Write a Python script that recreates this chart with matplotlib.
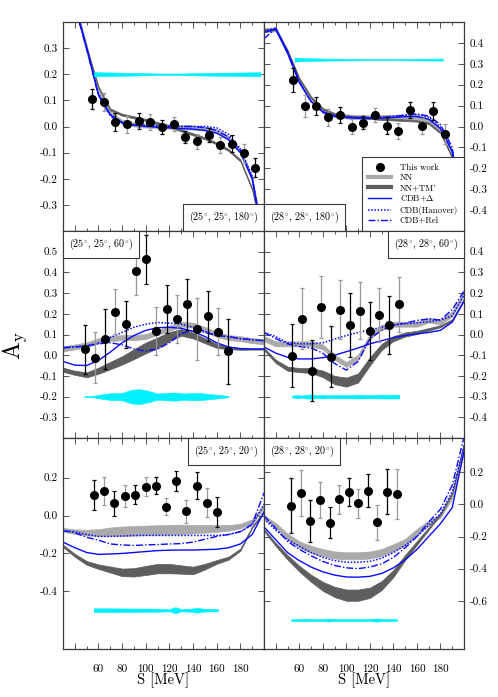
import matplotlib
matplotlib.use("Agg")
import matplotlib.pyplot as plt
import numpy as np
from matplotlib.lines import Line2D
from matplotlib.offsetbox import AnchoredText
from matplotlib.ticker import FixedLocator, FuncFormatter

plt.rcParams.update({
    "font.family": ["cmr10", "DejaVu Serif"],
    "mathtext.fontset": "cm",
    "axes.unicode_minus": False,
    "axes.linewidth": 0.9,
    "axes.edgecolor": "#3a3a3a",
    "xtick.direction": "in",
    "ytick.direction": "in",
    "xtick.labelsize": 8,
    "ytick.labelsize": 8,
})

# ---------------------------------------------------------------------------
# palette
# ---------------------------------------------------------------------------
BLUE = "#0a0aff"
LIGHT = "#aaaaaa"
DARK = "#5e5e5e"
CYAN = "#00f0ff"
BAR_GREY = "#9a9a9a"

# theory grid (MeV)
S_TH = [30, 40, 50, 60, 70, 80, 90, 100, 110, 120, 130, 140, 150, 160, 170, 180, 190, 200]

# ---------------------------------------------------------------------------
# (25, 25, 180)
# ---------------------------------------------------------------------------
tl_s = [54.6, 64.5, 74.3, 84.2, 94.0, 103.9, 113.7, 123.6, 133.4, 143.3, 153.1, 163.0, 172.8, 182.7, 192.5]
tl_ay = [0.104, 0.095, 0.016, 0.009, 0.022, 0.017, -0.002, 0.009, -0.040, -0.057, -0.032, -0.071, -0.066, -0.103, -0.158]
tl_err = [0.038, 0.034, 0.034, 0.032, 0.030, 0.030, 0.028, 0.027, 0.024, 0.028, 0.028, 0.030, 0.032, 0.035, 0.036]
tl_delta = [0.62, 0.47, 0.30, 0.12, 0.045, 0.015, 0.005, 0.0, -0.003, -0.005, -0.008, -0.01, -0.015, -0.025, -0.05, -0.10, -0.20, -0.45]
tl_hann = [0.62, 0.47, 0.30, 0.125, 0.045, 0.015, 0.007, 0.004, 0.002, 0.001, 0.0, 0.0, 0.0, -0.005, -0.03, -0.085, -0.19, -0.45]
tl_rel = [0.60, 0.46, 0.295, 0.12, 0.04, 0.012, 0.005, 0.003, 0.002, 0.001, 0.0, 0.0, -0.005, -0.015, -0.04, -0.09, -0.20, -0.45]
tl_nn = [0.62, 0.47, 0.305, 0.13, 0.05, 0.018, 0.008, 0.004, 0.002, 0.0, -0.002, -0.004, -0.008, -0.018, -0.045, -0.095, -0.20, -0.45]
tl_nn_hw = [0.008] * 18
tl_tm = [0.62, 0.46, 0.30, 0.15, 0.065, 0.045, 0.035, 0.025, 0.013, 0.0, -0.015, -0.03, -0.045, -0.065, -0.09, -0.13, -0.24, -0.45]
tl_tm_hw = [0.004] * 18
tl_sys_s = [56, 70, 90, 110, 130, 150, 170, 197]
tl_sys_hw = [0.008, 0.007, 0.005, 0.003, 0.003, 0.005, 0.006, 0.008]

# ---------------------------------------------------------------------------
# (28, 28, 180)
# ---------------------------------------------------------------------------
tr_s = [54.4, 64.6, 74.4, 84.6, 94.6, 104.5, 114.4, 124.3, 134.2, 144.1, 154.0, 164.0, 173.8, 184.0]
tr_ay = [0.222, 0.098, 0.098, 0.044, 0.055, -0.001, 0.018, 0.055, 0.004, -0.022, 0.079, 0.002, 0.074, -0.036]
tr_err = [0.056, 0.052, 0.045, 0.042, 0.040, 0.035, 0.032, 0.035, 0.040, 0.038, 0.040, 0.040, 0.045, 0.050]
tr_delta = [0.45, 0.465, 0.35, 0.21, 0.12, 0.07, 0.05, 0.043, 0.04, 0.04, 0.04, 0.043, 0.047, 0.048, 0.035, -0.01, -0.12, -0.52]
tr_hann = [0.46, 0.47, 0.355, 0.215, 0.12, 0.07, 0.05, 0.045, 0.043, 0.043, 0.045, 0.05, 0.055, 0.058, 0.045, 0.0, -0.11, -0.52]
tr_rel = [0.42, 0.47, 0.36, 0.215, 0.12, 0.068, 0.048, 0.043, 0.042, 0.042, 0.043, 0.047, 0.055, 0.06, 0.05, 0.01, -0.10, -0.52]
tr_nn = [0.46, 0.465, 0.36, 0.22, 0.13, 0.075, 0.055, 0.048, 0.045, 0.045, 0.045, 0.045, 0.045, 0.045, 0.03, -0.015, -0.13, -0.52]
tr_nn_hw = [0.01] * 18
tr_tm = [0.46, 0.465, 0.36, 0.23, 0.14, 0.085, 0.06, 0.05, 0.045, 0.04, 0.035, 0.033, 0.03, 0.027, 0.015, -0.03, -0.15, -0.52]
tr_tm_hw = [0.004] * 18
tr_sys_s = [56, 60, 80, 100, 120, 140, 160, 182]
tr_sys_hw = [0.010, 0.008, 0.005, 0.004, 0.003, 0.003, 0.004, 0.005]

# ---------------------------------------------------------------------------
# (25, 25, 60)
# ---------------------------------------------------------------------------
ml_s = [48.4, 57.1, 65.7, 74.4, 83.0, 91.7, 100.3, 109.0, 117.8, 126.5, 135.0, 143.5, 152.3, 161.0, 169.8]
ml_ay = [0.028, -0.012, 0.078, 0.210, 0.149, 0.406, 0.463, 0.117, 0.221, 0.175, 0.246, 0.125, 0.191, 0.114, 0.020]
ml_err = [0.118, 0.123, 0.144, 0.109, 0.113, 0.113, 0.118, 0.117, 0.116, 0.118, 0.122, 0.149, 0.121, 0.115, 0.157]
ml_delta = [-0.03, -0.048, -0.05, -0.025, 0.015, 0.06, 0.095, 0.12, 0.133, 0.135, 0.13, 0.115, 0.09, 0.06, 0.04, 0.032, 0.03, 0.03]
ml_hann = [0.04, 0.04, 0.045, 0.06, 0.085, 0.11, 0.135, 0.15, 0.158, 0.155, 0.15, 0.135, 0.115, 0.095, 0.09, 0.08, 0.075, 0.07]
ml_rel = [0.035, 0.04, 0.045, 0.055, 0.06, 0.05, 0.03, 0.02, 0.03, 0.06, 0.105, 0.12, 0.11, 0.095, 0.09, 0.08, 0.075, 0.07]
ml_nn = [0.03, 0.04, 0.05, 0.07, 0.08, 0.085, 0.085, 0.09, 0.11, 0.13, 0.15, 0.145, 0.125, 0.10, 0.085, 0.08, 0.07, 0.065]
ml_nn_hw = [0.012] * 18
ml_tm = [-0.07, -0.085, -0.095, -0.075, -0.05, -0.025, 0.005, 0.035, 0.06, 0.09, 0.11, 0.095, 0.07, 0.045, 0.035, 0.03, 0.03, 0.03]
ml_tm_hw = [0.01, 0.01, 0.012, 0.015, 0.018, 0.02, 0.024, 0.026, 0.026, 0.022, 0.016, 0.014, 0.012, 0.01, 0.006, 0.004, 0.003, 0.003]
ml_sys_s = [48, 56, 62, 70, 80, 88, 95, 102, 110, 118, 125, 132, 140, 148, 155, 162, 170]
ml_sys_hw = [0.002, 0.004, 0.010, 0.016, 0.018, 0.033, 0.036, 0.028, 0.015, 0.018, 0.020, 0.015, 0.018, 0.016, 0.012, 0.008, 0.003]

# ---------------------------------------------------------------------------
# (28, 28, 60)
# ---------------------------------------------------------------------------
mr_s = [53.8, 62.0, 70.5, 78.4, 86.7, 94.8, 103.0, 111.6, 119.8, 128.0, 136.2, 144.7]
mr_ay = [-0.102, 0.077, -0.174, 0.132, -0.107, 0.120, 0.046, 0.115, 0.018, 0.093, 0.046, 0.145]
mr_err = [0.153, 0.146, 0.149, 0.150, 0.149, 0.143, 0.155, 0.137, 0.139, 0.131, 0.139, 0.133]
mr_delta = [-0.06, -0.09, -0.11, -0.118, -0.118, -0.112, -0.10, -0.083, -0.065, -0.045, -0.03, -0.015, -0.005, 0.003, 0.01, 0.02, 0.06, 0.16]
mr_hann = [0.01, -0.01, -0.04, -0.045, -0.045, -0.04, -0.022, -0.005, 0.01, 0.022, 0.035, 0.046, 0.052, 0.056, 0.062, 0.07, 0.09, 0.19]
mr_rel = [0.01, -0.02, -0.045, -0.058, -0.065, -0.09, -0.14, -0.172, -0.13, -0.02, 0.02, 0.045, 0.055, 0.068, 0.075, 0.07, 0.12, 0.21]
mr_nn = [-0.02, -0.045, -0.045, -0.045, -0.045, -0.06, -0.11, -0.145, -0.11, -0.01, 0.035, 0.05, 0.05, 0.05, 0.07, 0.06, 0.10, 0.20]
mr_nn_hw = [0.012] * 18
mr_tm = [-0.07, -0.13, -0.165, -0.172, -0.174, -0.19, -0.22, -0.23, -0.21, -0.13, -0.06, -0.02, 0.0, 0.01, 0.025, 0.04, 0.07, 0.17]
mr_tm_hw = [0.006, 0.008, 0.01, 0.01, 0.012, 0.016, 0.02, 0.022, 0.022, 0.02, 0.015, 0.012, 0.01, 0.008, 0.006, 0.005, 0.004, 0.004]
mr_sys_s = [54, 58, 62, 66, 71, 75, 80, 85, 90, 100, 110, 120, 130, 145]
mr_sys_hw = [0.005, 0.008, 0.005, 0.009, 0.010, 0.006, 0.009, 0.006, 0.008, 0.008, 0.009, 0.008, 0.009, 0.009]

# ---------------------------------------------------------------------------
# (25, 25, 20)
# ---------------------------------------------------------------------------
bl_s = [56.3, 64.8, 73.5, 82.4, 91.1, 99.9, 108.4, 117.2, 125.7, 134.2, 143.0, 151.5, 160.0]
bl_ay = [0.109, 0.130, 0.066, 0.106, 0.111, 0.153, 0.158, 0.048, 0.183, 0.022, 0.158, 0.069, 0.019]
bl_err = [0.079, 0.076, 0.066, 0.058, 0.052, 0.049, 0.044, 0.046, 0.055, 0.061, 0.070, 0.076, 0.077]
bl_delta = [-0.14, -0.17, -0.195, -0.205, -0.203, -0.20, -0.195, -0.19, -0.185, -0.183, -0.182, -0.182, -0.18, -0.178, -0.17, -0.15, -0.10, 0.02]
bl_hann = [-0.08, -0.085, -0.10, -0.11, -0.11, -0.108, -0.106, -0.105, -0.105, -0.105, -0.105, -0.105, -0.105, -0.105, -0.10, -0.085, -0.05, 0.06]
bl_rel = [-0.08, -0.09, -0.115, -0.13, -0.15, -0.155, -0.158, -0.155, -0.153, -0.15, -0.148, -0.14, -0.125, -0.11, -0.10, -0.085, -0.045, 0.12]
bl_nn = [-0.075, -0.085, -0.09, -0.09, -0.085, -0.083, -0.08, -0.078, -0.076, -0.075, -0.073, -0.072, -0.07, -0.068, -0.065, -0.055, -0.03, 0.05]
bl_nn_hw = [0.01, 0.012, 0.015, 0.018, 0.022, 0.025, 0.025, 0.025, 0.025, 0.025, 0.025, 0.022, 0.02, 0.018, 0.015, 0.012, 0.01, 0.01]
bl_tm = [-0.16, -0.21, -0.25, -0.27, -0.285, -0.30, -0.30, -0.29, -0.28, -0.28, -0.285, -0.29, -0.27, -0.245, -0.225, -0.18, -0.06, 0.02]
bl_tm_hw = [0.006, 0.008, 0.01, 0.012, 0.016, 0.02, 0.022, 0.024, 0.025, 0.025, 0.022, 0.02, 0.015, 0.01, 0.008, 0.006, 0.005, 0.005]
bl_sys_s = [56, 70, 90, 110, 120, 125, 130, 138, 143, 150, 161]
bl_sys_hw = [0.010, 0.010, 0.009, 0.008, 0.006, 0.016, 0.006, 0.008, 0.013, 0.007, 0.006]

# ---------------------------------------------------------------------------
# (28, 28, 20)
# ---------------------------------------------------------------------------
br_s = [53.2, 61.4, 69.4, 77.6, 85.8, 94.0, 102.2, 110.1, 118.4, 126.3, 134.5, 142.7]
br_ay = [-0.010, 0.071, -0.103, 0.026, -0.113, 0.032, 0.076, 0.006, 0.086, -0.110, 0.077, 0.065]
br_err = [0.171, 0.145, 0.130, 0.111, 0.096, 0.090, 0.088, 0.090, 0.103, 0.109, 0.140, 0.155]
br_delta = [-0.14, -0.22, -0.30, -0.35, -0.39, -0.42, -0.44, -0.452, -0.453, -0.448, -0.43, -0.395, -0.345, -0.28, -0.20, -0.12, -0.02, 0.33]
br_hann = [-0.09, -0.16, -0.22, -0.26, -0.30, -0.33, -0.35, -0.36, -0.36, -0.355, -0.335, -0.30, -0.255, -0.20, -0.13, -0.06, 0.08, 0.36]
br_rel = [-0.07, -0.15, -0.23, -0.28, -0.32, -0.355, -0.38, -0.395, -0.40, -0.39, -0.37, -0.33, -0.27, -0.20, -0.11, -0.03, 0.12, 0.42]
br_nn = [-0.08, -0.13, -0.20, -0.25, -0.28, -0.30, -0.315, -0.32, -0.32, -0.315, -0.30, -0.27, -0.235, -0.17, -0.115, -0.07, 0.05, 0.33]
br_nn_hw = [0.012, 0.014, 0.018, 0.02, 0.022, 0.022, 0.022, 0.022, 0.022, 0.022, 0.022, 0.022, 0.02, 0.018, 0.015, 0.012, 0.012, 0.012]
br_tm = [-0.16, -0.25, -0.33, -0.40, -0.46, -0.51, -0.545, -0.565, -0.565, -0.55, -0.505, -0.43, -0.33, -0.24, -0.15, -0.06, 0.07, 0.38]
br_tm_hw = [0.006, 0.01, 0.014, 0.018, 0.022, 0.028, 0.032, 0.035, 0.035, 0.032, 0.028, 0.022, 0.016, 0.012, 0.008, 0.006, 0.005, 0.005]
br_sys_s = [53, 60, 65, 70, 80, 85, 90, 100, 110, 120, 126, 132, 143]
br_sys_hw = [0.005, 0.006, 0.008, 0.006, 0.006, 0.009, 0.006, 0.006, 0.006, 0.006, 0.010, 0.006, 0.006]

LABELS = {
    "tl": r"$(25^{\circ},\, 25^{\circ},\, 180^{\circ})$",
    "tr": r"$(28^{\circ},\, 28^{\circ},\, 180^{\circ})$",
    "ml": r"$(25^{\circ},\, 25^{\circ},\, 60^{\circ})$",
    "mr": r"$(28^{\circ},\, 28^{\circ},\, 60^{\circ})$",
    "bl": r"$(25^{\circ},\, 25^{\circ},\, 20^{\circ})$",
    "br": r"$(28^{\circ},\, 28^{\circ},\, 20^{\circ})$",
}


def draw_panel(ax, pts, th, sys_s, sys_hw, sys_y):
    s, ay, err = (np.asarray(v, float) for v in pts)
    nn, nn_hw, tm, tm_hw, delta, hann, rel = (np.asarray(v, float) for v in th)
    ax.fill_between(S_TH, nn - nn_hw, nn + nn_hw, color=LIGHT, lw=0.5, zorder=1)
    ax.fill_between(S_TH, tm - tm_hw, tm + tm_hw, color=DARK, lw=0.5, zorder=1)
    ax.plot(S_TH, delta, color=BLUE, lw=1.0, zorder=2)
    ax.plot(S_TH, hann, color=BLUE, lw=1.1, ls=(0, (1, 1.1)), zorder=2)
    ax.plot(S_TH, rel, color=BLUE, lw=1.0, ls=(0, (5, 1.5, 1, 1.5)), zorder=2)
    sys_s = np.asarray(sys_s, float)
    sys_hw = np.asarray(sys_hw, float)
    ax.fill_between(sys_s, sys_y - sys_hw, sys_y + sys_hw, color=CYAN, lw=0.4, zorder=2)
    for i in range(len(s)):
        ax.errorbar(s[i], ay[i], yerr=err[i], fmt="o", color="k", ms=5.5,
                    ecolor="k" if i % 2 == 0 else BAR_GREY,
                    elinewidth=0.9, capsize=1.6, capthick=0.9, zorder=4)


def style_axes(ax, right, ylim, yticks, bottom):
    ax.set_xlim(30, 200)
    ax.set_ylim(*ylim)
    ax.xaxis.set_major_locator(FixedLocator([40, 60, 80, 100, 120, 140, 160, 180, 200]))
    ax.xaxis.set_minor_locator(FixedLocator([30, 50, 70, 90, 110, 130, 150, 170, 190]))
    ax.yaxis.set_major_locator(FixedLocator(yticks))
    ax.yaxis.set_major_formatter(FuncFormatter(lambda v, p: f"{v:.1f}"))
    if bottom:
        ax.xaxis.set_major_formatter(FuncFormatter(lambda v, p: f"{v:.0f}" if 50 < v < 190 else ""))
    ax.tick_params(axis="both", which="both", top=True, bottom=True, left=True, right=True,
                   colors="#3a3a3a", labelcolor="k", width=0.6)
    ax.tick_params(axis="x", which="major", length=4, pad=11, labelbottom=bottom)
    ax.tick_params(axis="x", which="minor", length=2)
    ax.tick_params(axis="y", which="major", length=4, pad=4, labelleft=not right, labelright=right)
    if bottom:
        ax.text(0.5, -0.148, "S [MeV]", transform=ax.transAxes, ha="center", va="center", fontsize=10.5)


def add_label(ax, text, loc):
    at = AnchoredText(text, loc=loc, prop=dict(size=7.2), frameon=True, pad=0.6, borderpad=0.0)
    at.patch.set_boxstyle("square,pad=0")
    at.patch.set_edgecolor("#3a3a3a")
    at.patch.set_linewidth(0.8)
    at.set_zorder(9)
    ax.add_artist(at)


fig = plt.figure(figsize=(4.98, 6.97), dpi=100)

XL, WL = 63 / 498, 201 / 498
XR, WR = 264 / 498, 200 / 498
rows = [(1 - 231 / 697, 209 / 697), (1 - 438 / 697, 207 / 697), (1 - 649 / 697, 211 / 697)]

panels = [
    ("tl", XL, WL, 0, False, (-0.4, 0.4), [-0.3, -0.2, -0.1, 0.0, 0.1, 0.2, 0.3],
     (tl_s, tl_ay, tl_err), (tl_nn, tl_nn_hw, tl_tm, tl_tm_hw, tl_delta, tl_hann, tl_rel),
     tl_sys_s, tl_sys_hw, 0.2, "lower right"),
    ("tr", XR, WR, 0, True, (-0.5, 0.5), [-0.4, -0.3, -0.2, -0.1, 0.0, 0.1, 0.2, 0.3, 0.4],
     (tr_s, tr_ay, tr_err), (tr_nn, tr_nn_hw, tr_tm, tr_tm_hw, tr_delta, tr_hann, tr_rel),
     tr_sys_s, tr_sys_hw, 0.32, "lower left"),
    ("ml", XL, WL, 1, False, (-0.4, 0.6), [-0.3, -0.2, -0.1, 0.0, 0.1, 0.2, 0.3, 0.4, 0.5],
     (ml_s, ml_ay, ml_err), (ml_nn, ml_nn_hw, ml_tm, ml_tm_hw, ml_delta, ml_hann, ml_rel),
     ml_sys_s, ml_sys_hw, -0.2, "upper left"),
    ("mr", XR, WR, 1, True, (-0.5, 0.5), [-0.4, -0.3, -0.2, -0.1, 0.0, 0.1, 0.2, 0.3, 0.4],
     (mr_s, mr_ay, mr_err), (mr_nn, mr_nn_hw, mr_tm, mr_tm_hw, mr_delta, mr_hann, mr_rel),
     mr_sys_s, mr_sys_hw, -0.3, "upper right"),
    ("bl", XL, WL, 2, False, (-0.705, 0.41), [-0.4, -0.2, 0.0, 0.2],
     (bl_s, bl_ay, bl_err), (bl_nn, bl_nn_hw, bl_tm, bl_tm_hw, bl_delta, bl_hann, bl_rel),
     bl_sys_s, bl_sys_hw, -0.5, "upper right"),
    ("br", XR, WR, 2, True, (-0.9, 0.413), [-0.6, -0.4, -0.2, 0.0, 0.2],
     (br_s, br_ay, br_err), (br_nn, br_nn_hw, br_tm, br_tm_hw, br_delta, br_hann, br_rel),
     br_sys_s, br_sys_hw, -0.72, "upper left"),
]

axes = {}
for key, x0, w, r, right, ylim, yticks, pts, th, sys_s, sys_hw, sys_y, loc in panels:
    y0, h = rows[r]
    ax = fig.add_axes([x0, y0, w, h])
    draw_panel(ax, pts, th, sys_s, sys_hw, sys_y)
    style_axes(ax, right, ylim, yticks, r == 2)
    add_label(ax, LABELS[key], loc)
    axes[key] = ax

handles = [
    Line2D([], [], marker="o", color="k", ls="none", ms=5.5),
    Line2D([], [], color=LIGHT, lw=3),
    Line2D([], [], color=DARK, lw=3),
    Line2D([], [], color=BLUE, lw=1.0),
    Line2D([], [], color=BLUE, lw=1.1, ls=(0, (1, 1.1))),
    Line2D([], [], color=BLUE, lw=1.0, ls=(0, (5, 1.5, 1, 1.5))),
]
names = ["This work", "NN", "NN+TM'", r"CDB+$\Delta$", "CDB(Hanover)", "CDB+Rel"]
leg = axes["tr"].legend(handles, names, loc="lower right", fontsize=6.3, frameon=True, fancybox=False,
                        borderaxespad=0.0, borderpad=0.7, handlelength=2.6, handletextpad=1.0,
                        labelspacing=0.2, edgecolor="#3a3a3a", framealpha=1)
leg.get_frame().set_linewidth(0.8)
leg.set_zorder(10)

fig.text(15 / 498, 1 - 345 / 697, r"$\mathrm{A_y}$", rotation=90, ha="center", va="center", fontsize=17)

fig.savefig("out.png", dpi=100)
